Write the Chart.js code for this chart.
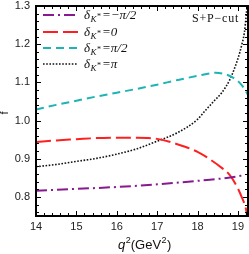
<!DOCTYPE html>
<html>
<head>
<meta charset="utf-8">
<script src="https://cdn.jsdelivr.net/npm/chart.js@4"></script>
<style>
  html, body { margin: 0; padding: 0; background: #fff; }
  #wrap { width: 249px; height: 254px; }
</style>
</head>
<body>
<div id="wrap"><canvas id="myChart" width="249" height="254"></canvas></div>
<script>
// values
var xTicks = [14, 15, 16, 17, 18, 19];
var yTicks = [0.8, 0.9, 1.0, 1.1, 1.2, 1.3];

var qMinus = [14, 15, 16, 17, 18, 18.5, 19, 19.1];
var fMinus = [0.816, 0.821, 0.826, 0.833, 0.842, 0.847, 0.854, 0.856];

var qZero = [14, 14.5, 15, 15.5, 16, 16.5, 17, 17.5, 18, 18.3, 18.6, 18.8, 19, 19.1, 19.2, 19.25];
var fZero = [0.944, 0.948, 0.951, 0.954, 0.955, 0.955, 0.952, 0.938, 0.918, 0.899, 0.876, 0.857, 0.822, 0.798, 0.768, 0.735];

var qHalf = [14, 14.5, 15, 15.5, 16, 16.5, 17, 17.5, 18, 18.45, 18.7, 18.9, 19.05, 19.15, 19.25];
var fHalf = [1.029, 1.041, 1.052, 1.063, 1.073, 1.083, 1.094, 1.106, 1.117, 1.125, 1.121, 1.111, 1.098, 1.085, 1.067];

var qPi = [14, 14.5, 15, 15.5, 16, 16.5, 17, 17.5, 18, 18.2, 18.4, 18.6, 18.8, 18.9, 19, 19.1, 19.16, 19.21, 19.25];
var fPi = [0.879, 0.885, 0.893, 0.901, 0.912, 0.926, 0.946, 0.968, 1.003, 1.027, 1.05, 1.073, 1.107, 1.132, 1.162, 1.2, 1.23, 1.28, 1.33];

var labels = ['=\u2212\u03c0/2', '=0', '=\u03c0/2', '=\u03c0'];
var colorHex = ['#861a8e', '#ff1f1f', '#1fb4b4', '#111111'];
var dashes = [[11, 4, 2, 4], [15, 5], [8, 5], [1.6, 1.6]];

function pts(xs, ys) {
    return xs.map(function (x, i) { return { x: x, y: ys[i] }; });
}

var serif = '"Liberation Serif", "DejaVu Serif", serif';
var sans = '"Liberation Sans", Arial, sans-serif';

// frame, inward ticks, legend and titles
var framePlugin = {
    id: 'frame',
    afterDraw: function (chart) {
        var ctx = chart.ctx;
        var a = chart.chartArea;
        var xs = chart.scales.x, ys = chart.scales.y;
        ctx.save();
        ctx.strokeStyle = '#000';
        ctx.lineWidth = 1;
        ctx.beginPath();
        var v, p, major;
        for (v = 14; v <= 19.25 + 1e-9; v += 0.2) {
            p = Math.round(xs.getPixelForValue(v)) + 0.5;
            major = Math.abs(v - Math.round(v)) < 1e-6;
            var l = major ? 5 : 3;
            ctx.moveTo(p, a.bottom); ctx.lineTo(p, a.bottom - l);
            ctx.moveTo(p, a.top); ctx.lineTo(p, a.top + l);
        }
        for (v = 0.76; v <= 1.3 + 1e-9; v += 0.02) {
            p = Math.round(ys.getPixelForValue(v)) + 0.5;
            major = Math.abs(v * 10 - Math.round(v * 10)) < 1e-6;
            var l2 = major ? 5 : 3;
            ctx.moveTo(a.left, p); ctx.lineTo(a.left + l2, p);
            ctx.moveTo(a.right, p); ctx.lineTo(a.right - l2, p);
        }
        ctx.stroke();
        ctx.lineWidth = 2;
        ctx.strokeRect(a.left, a.top, a.right - a.left, a.bottom - a.top);

        // legend
        var rows = [15, 32, 48, 64];
        for (var i = 0; i < 4; i++) {
            var y = rows[i];
            ctx.save();
            ctx.strokeStyle = colorHex[i];
            ctx.lineWidth = i == 3 ? 1.6 : 2;
            ctx.setLineDash(dashes[i]);
            ctx.beginPath();
            ctx.moveTo(43, y); ctx.lineTo(78, y);
            ctx.stroke();
            ctx.restore();
            ctx.fillStyle = '#111';
            ctx.textBaseline = 'alphabetic';
            ctx.textAlign = 'left';
            var tx = 84, by = y + 4;
            ctx.font = 'italic 13px ' + serif;
            ctx.fillText('\u03b4', tx, by);
            tx += ctx.measureText('\u03b4').width + 0.5;
            ctx.font = 'italic 9px ' + serif;
            ctx.fillText('K', tx, by + 3);
            tx += ctx.measureText('K').width + 0.5;
            ctx.font = '8px ' + serif;
            ctx.fillText('*', tx, by);
            tx += ctx.measureText('*').width + 1;
            ctx.font = 'italic 13px ' + serif;
            ctx.fillText(labels[i], tx, by);
        }

        // cut label
        ctx.font = '12px ' + serif;
        ctx.fillStyle = '#111';
        var txt = 'S+P\u2212cut', cx = 192;
        for (var k = 0; k < txt.length; k++) {
            ctx.fillText(txt[k], cx, 22);
            cx += ctx.measureText(txt[k]).width + 0.8;
        }

        // axis titles
        ctx.save();
        ctx.translate(8, 113);
        ctx.rotate(-Math.PI / 2);
        ctx.textAlign = 'center';
        ctx.font = '11px ' + sans;
        ctx.fillText('f', 0, 0);
        ctx.restore();

        ctx.font = 'italic 13px ' + sans;
        var x0 = 118, yb = 249;
        ctx.fillText('q', x0, yb);
        x0 += ctx.measureText('q').width + 0.5;
        ctx.font = '9px ' + sans;
        ctx.fillText('2', x0, yb - 6);
        x0 += ctx.measureText('2').width;
        ctx.font = '13px ' + sans;
        ctx.fillText('(GeV', x0, yb);
        x0 += ctx.measureText('(GeV').width + 0.5;
        ctx.font = '9px ' + sans;
        ctx.fillText('2', x0, yb - 6);
        x0 += ctx.measureText('2').width + 0.5;
        ctx.font = '13px ' + sans;
        ctx.fillText(')', x0, yb);
        ctx.restore();
    }
};

var datasets = [
    { data: pts(qMinus, fMinus) },
    { data: pts(qZero, fZero) },
    { data: pts(qHalf, fHalf) },
    { data: pts(qPi, fPi) }
].map(function (d, i) {
    d.borderColor = colorHex[i];
    d.borderWidth = i == 3 ? 1.6 : 2;
    d.borderDash = dashes[i];
    d.pointRadius = 0;
    d.fill = false;
    d.cubicInterpolationMode = 'monotone';
    return d;
});

let ctx = document.getElementById('myChart').getContext('2d');
let myChart = new Chart(ctx, {
    type: 'line',
    data: { datasets: datasets },
    options: {
        responsive: false,
        animation: false,
        events: [],
        layout: { padding: { top: 6, right: 1, left: 0, bottom: 0 } },
        plugins: { legend: { display: false }, tooltip: { enabled: false } },
        scales: {
            x: {
                type: 'linear',
                min: 14,
                max: 19.25,
                afterBuildTicks: function (scale) {
                    scale.ticks = xTicks.map(function (v) { return { value: v }; });
                },
                afterFit: function (scale) {
                    scale.height = 38;
                    scale.paddingLeft = 0;
                    scale.paddingRight = 0;
                },
                grid: { display: false, drawTicks: false },
                border: { display: false },
                ticks: {
                    padding: 4,
                    color: '#222',
                    font: { family: sans, size: 11 },
                    maxRotation: 0,
                    callback: function (v) { return String(v); }
                }
            },
            y: {
                type: 'linear',
                min: 0.75,
                max: 1.3,
                afterBuildTicks: function (scale) {
                    scale.ticks = yTicks.map(function (v) { return { value: v }; });
                },
                afterFit: function (scale) {
                    scale.width = 36;
                    scale.paddingTop = 0;
                    scale.paddingBottom = 0;
                },
                grid: { display: false, drawTicks: false },
                border: { display: false },
                ticks: {
                    padding: 6,
                    color: '#222',
                    font: { family: sans, size: 11 },
                    callback: function (v) { return v.toFixed(1); }
                }
            }
        }
    },
    plugins: [framePlugin]
});
</script>
</body>
</html>
